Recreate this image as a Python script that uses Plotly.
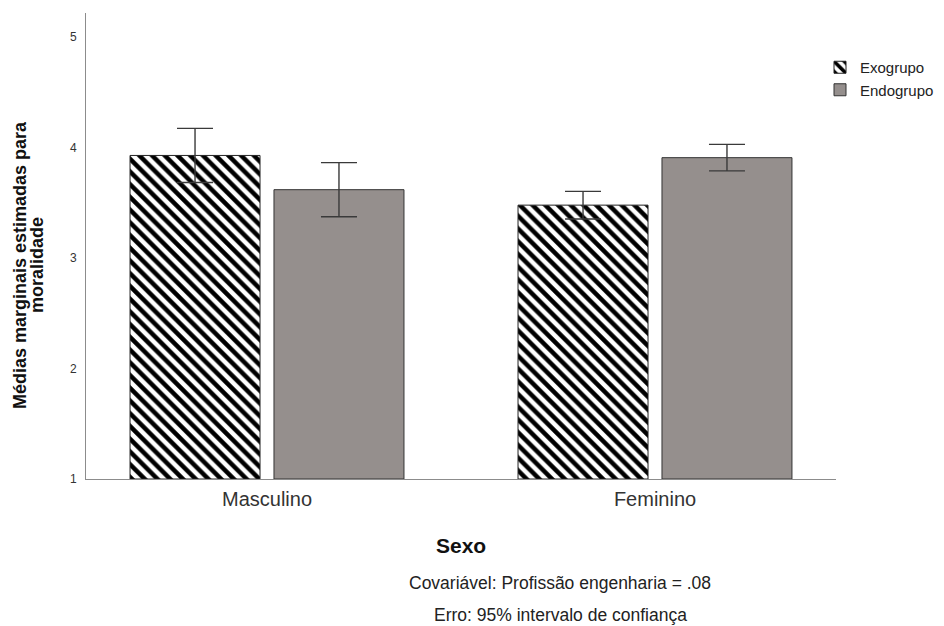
import plotly.graph_objects as go

categories = ["Masculino", "Feminino"]
series_names = ["Exogrupo", "Endogrupo"]
exo_means = [3.93, 3.48]
exo_ci = [0.245, 0.125]
endo_means = [3.62, 3.91]
endo_ci = [0.245, 0.12]
y_ticks = [1, 2, 3, 4, 5]
y_title_lines = ["Médias marginais estimadas para", "moralidade"]
x_title = "Sexo"
footnotes = ["Covariável: Profissão engenharia = .08", "Erro: 95% intervalo de confiança"]

FONT = "Liberation Sans, Arial, sans-serif"
err_style = dict(type="data", visible=True, color="#3a3a3a", thickness=1.4, width=18)

L, R, T, B = 86, 108, 13, 147
W, H = 944, 626
pw, ph = W - L - R, H - T - B


def px_to_paper(x_px, y_px):
    return (x_px - L) / pw, (H - B - y_px) / ph


fig = go.Figure()
fig.add_trace(go.Bar(
    x=categories, y=[m - 1 for m in exo_means], base=1, name=series_names[0],
    error_y=dict(array=exo_ci, **err_style),
    marker=dict(color="white", line=dict(color="#222222", width=1),
                pattern=dict(shape="\\", fgcolor="black", bgcolor="white", fgopacity=1,
                             size=9, solidity=0.5)),
))
fig.add_trace(go.Bar(
    x=categories, y=[m - 1 for m in endo_means], base=1, name=series_names[1],
    error_y=dict(array=endo_ci, **err_style),
    marker=dict(color="#958f8d", line=dict(color="#333333", width=1)),
))

ann = []
for text, ypx in zip(footnotes, [583, 615]):
    ax, ay = px_to_paper(560, ypx)
    ann.append(dict(text=text, x=ax, y=ay, xref="paper", yref="paper", showarrow=False,
                    xanchor="center", yanchor="middle", font=dict(size=17.5, color="#222222")))
# x axis title
ax, ay = px_to_paper(461, 545)
ann.append(dict(text="<b>%s</b>" % x_title, x=ax, y=ay, xref="paper", yref="paper", showarrow=False,
                xanchor="center", yanchor="middle", font=dict(size=21, color="#111111")))
# y axis title (two tight lines)
for text, xpx in zip(y_title_lines, [20, 37]):
    ax, ay = px_to_paper(xpx, 265)
    ann.append(dict(text="<b>%s</b>" % text, x=ax, y=ay, xref="paper", yref="paper", showarrow=False,
                    xanchor="center", yanchor="middle", textangle=-90,
                    font=dict(size=18, color="#111111")))

lx, ly = px_to_paper(820, 51)

fig.update_layout(
    width=W, height=H,
    margin=dict(l=L, r=R, t=T, b=B, autoexpand=False),
    plot_bgcolor="white", paper_bgcolor="white",
    barmode="group", bargap=0.258, bargroupgap=0.097,
    font=dict(family=FONT, color="#222222"),
    showlegend=True,
    legend=dict(x=lx, y=ly, xanchor="left", yanchor="top",
                font=dict(size=15, family=FONT, color="#222222"),
                bgcolor="rgba(0,0,0,0)", tracegroupgap=0, itemwidth=30),
    xaxis=dict(type="category", range=[-0.4665, 1.4665], showline=True, linecolor="#8c8c8c",
               linewidth=1, ticks="", tickfont=dict(size=20, color="#333333"), automargin=False,
               ticklabelstandoff=2, showgrid=False, zeroline=False),
    yaxis=dict(range=[1, 5.22], tickvals=y_ticks, showline=True, linecolor="#8c8c8c",
               linewidth=1, ticks="", tickfont=dict(size=12, color="#333333"), ticklabelstandoff=6,
               automargin=False, showgrid=False, zeroline=False),
    annotations=ann,
)

fig.write_html("out.html", config={"displayModeBar": False},
               post_script="document.body.style.margin='0';")
